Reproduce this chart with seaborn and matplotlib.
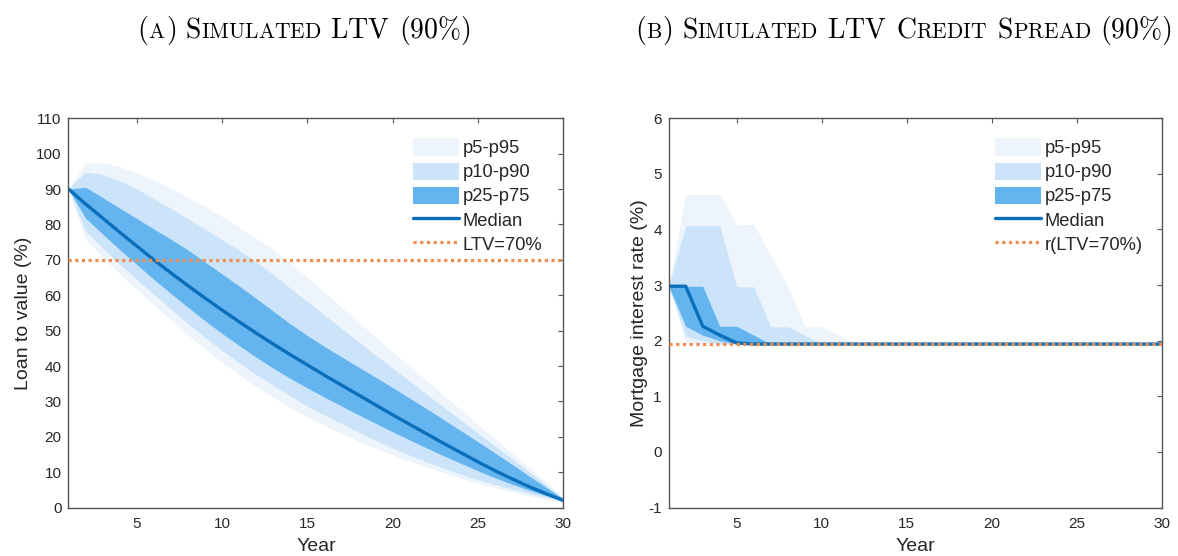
import numpy as np
import pandas as pd
import matplotlib
matplotlib.use('Agg')
import matplotlib.pyplot as plt
import seaborn as sns
from matplotlib.patches import Patch
from matplotlib.lines import Line2D

# Data
years = list(range(1, 31))

# (a) simulated LTV, percentiles by year
ltv_p95 = [90.0, 97.4, 97.4, 96.3, 94.6, 92.6, 90.2, 87.7, 85.0, 82.2,
           79.2, 76.1, 72.8, 69.0, 65.0, 60.8, 56.6, 52.4, 48.2, 44.0,
           39.9, 35.8, 31.7, 27.6, 23.5, 19.4, 15.3, 11.3, 7.2, 3.0]
ltv_p90 = [90.0, 94.8, 94.1, 92.3, 90.0, 87.3, 84.5, 81.6, 78.7, 75.7,
           72.7, 69.4, 65.8, 62.0, 58.2, 54.4, 50.6, 46.8, 43.1, 39.4,
           35.7, 32.0, 28.3, 24.7, 21.0, 17.4, 13.8, 10.1, 6.3, 2.5]
ltv_p75 = [90.0, 90.5, 87.6, 84.6, 81.7, 78.7, 75.8, 72.8, 69.4, 66.0,
           62.6, 59.1, 55.5, 51.9, 48.6, 45.5, 42.6, 39.7, 36.8, 33.9,
           30.9, 27.9, 24.8, 21.7, 18.6, 15.4, 12.2, 8.9, 5.7, 2.5]
ltv_p50 = [90.0, 85.8, 81.8, 77.8, 73.9, 70.0, 66.3, 62.7, 59.2, 55.8,
           52.5, 49.3, 46.2, 43.2, 40.3, 37.4, 34.6, 31.8, 29.0, 26.2,
           23.5, 20.8, 18.1, 15.5, 12.9, 10.4, 8.1, 5.9, 3.9, 2.0]
ltv_p25 = [90.0, 81.8, 77.3, 72.9, 68.7, 64.5, 60.5, 56.6, 52.8, 49.2,
           45.8, 42.5, 39.4, 36.5, 33.8, 31.2, 28.7, 26.2, 23.8, 21.4,
           19.1, 16.8, 14.6, 12.5, 10.4, 8.4, 6.6, 4.9, 3.4, 2.0]
ltv_p10 = [90.0, 78.1, 73.3, 68.8, 64.5, 60.3, 56.1, 52.0, 48.1, 44.4,
           40.9, 37.6, 34.5, 31.5, 28.7, 26.1, 23.7, 21.3, 19.0, 16.8,
           14.8, 12.9, 11.1, 9.4, 7.9, 6.5, 5.2, 4.0, 2.9, 1.8]
ltv_p5 = [90.0, 75.8, 70.7, 66.0, 61.7, 57.3, 53.0, 48.8, 44.8, 41.0,
          37.5, 34.2, 31.1, 28.2, 25.6, 23.2, 20.9, 18.8, 16.8, 14.9,
          13.1, 11.4, 9.8, 8.3, 6.9, 5.6, 4.4, 3.3, 2.3, 1.5]
ltv_threshold = 70

# (b) mortgage interest rate, percentiles by year
rate_p95 = [2.98, 4.63, 4.63, 4.63, 4.09, 4.09, 3.53, 2.98, 2.26, 2.26,
            2.10, 1.94, 1.94, 1.94, 1.94, 1.94, 1.94, 1.94, 1.94, 1.94,
            1.94, 1.94, 1.94, 1.94, 1.94, 1.94, 1.94, 1.94, 1.94, 1.94]
rate_p90 = [2.98, 4.07, 4.07, 4.07, 2.97, 2.97, 2.25, 2.25, 2.10, 1.94,
            1.94, 1.94, 1.94, 1.94, 1.94, 1.94, 1.94, 1.94, 1.94, 1.94,
            1.94, 1.94, 1.94, 1.94, 1.94, 1.94, 1.94, 1.94, 1.94, 1.94]
rate_p75 = [2.98, 2.98, 2.98, 2.26, 2.26, 2.10, 1.94, 1.94, 1.94, 1.94,
            1.94, 1.94, 1.94, 1.94, 1.94, 1.94, 1.94, 1.94, 1.94, 1.94,
            1.94, 1.94, 1.94, 1.94, 1.94, 1.94, 1.94, 1.94, 1.94, 1.94]
rate_p50 = [2.98, 2.98, 2.26, 2.10, 1.96, 1.94, 1.94, 1.94, 1.94, 1.94,
            1.94, 1.94, 1.94, 1.94, 1.94, 1.94, 1.94, 1.94, 1.94, 1.94,
            1.94, 1.94, 1.94, 1.94, 1.94, 1.94, 1.94, 1.94, 1.94, 1.94]
rate_p25 = [2.98, 2.26, 2.10, 2.00, 1.94, 1.94, 1.94, 1.94, 1.94, 1.94,
            1.94, 1.94, 1.94, 1.94, 1.94, 1.94, 1.94, 1.94, 1.94, 1.94,
            1.94, 1.94, 1.94, 1.94, 1.94, 1.94, 1.94, 1.94, 1.94, 1.94]
rate_p10 = [2.98, 2.08, 2.00, 1.94, 1.94, 1.94, 1.94, 1.94, 1.94, 1.94,
            1.94, 1.94, 1.94, 1.94, 1.94, 1.94, 1.94, 1.94, 1.94, 1.94,
            1.94, 1.94, 1.94, 1.94, 1.94, 1.94, 1.94, 1.94, 1.94, 1.94]
rate_p5 = [2.98, 1.97, 1.94, 1.94, 1.94, 1.94, 1.94, 1.94, 1.94, 1.94,
           1.94, 1.94, 1.94, 1.94, 1.94, 1.94, 1.94, 1.94, 1.94, 1.94,
           1.94, 1.94, 1.94, 1.94, 1.94, 1.94, 1.94, 1.94, 1.94, 1.94]
rate_threshold = 1.94

band_labels = ['p5-p95', 'p10-p90', 'p25-p75']

# Style
sns.set_style('white')
plt.rcParams['font.family'] = ['Liberation Sans', 'DejaVu Sans']
plt.rcParams['mathtext.fontset'] = 'cm'
plt.rcParams['axes.unicode_minus'] = False

C_OUTER = '#edf4fc'
C_MID = '#cce4fa'
C_INNER = '#64b4ef'
C_MED = '#0a6fbb'
C_REF = '#f08e52'
AX_COL = '#555555'
TXT_COL = '#262626'


def draw_panel(ax, p5, p10, p25, p50, p75, p90, p95, ref, ref_label):
    ax.fill_between(years, p5, p95, color=C_OUTER, lw=0)
    ax.fill_between(years, p10, p90, color=C_MID, lw=0)
    ax.fill_between(years, p25, p75, color=C_INNER, lw=0)
    df = pd.DataFrame({'Year': years, 'value': p50})
    sns.lineplot(data=df, x='Year', y='value', ax=ax, color=C_MED, lw=2.4)
    ax.axhline(ref, color=C_REF, lw=2.3, ls=(0, (1, 1.1)), zorder=5)

    handles = [Patch(facecolor=C_OUTER, lw=0), Patch(facecolor=C_MID, lw=0),
               Patch(facecolor=C_INNER, lw=0),
               Line2D([], [], color=C_MED, lw=2.4),
               Line2D([], [], color=C_REF, lw=2.3, ls=(0, (1, 1.1)))]
    return handles, band_labels + ['Median', ref_label]


def style_axes(ax):
    ax.set_xlim(1, 30)
    ax.set_xticks([5, 10, 15, 20, 25, 30])
    ax.tick_params(which='both', direction='in', top=True, right=True,
                   length=3.6, width=0.8, color=AX_COL, labelcolor=TXT_COL,
                   labelsize=11)
    ax.tick_params(axis='x', pad=7)
    ax.tick_params(axis='y', pad=5)
    for sp in ax.spines.values():
        sp.set_visible(True)
        sp.set_color(AX_COL)
        sp.set_linewidth(1.0)
    ax.set_xlabel('Year', fontsize=14, color=TXT_COL, labelpad=5)


def smallcaps_title(fig, xc, y, parts, big=20, small=15.5):
    # fake small caps in Computer Modern: big capitals + smaller capitals
    r = fig.canvas.get_renderer()
    W = fig.bbox.width
    placed = []
    x = 0.0
    for s, kind in parts:
        if kind == 'gap':
            x += big * fig.dpi / 72 * 0.33
            continue
        size = big if kind == 'B' else small
        t = fig.text(0, y, r'$\mathrm{' + s + '}$', fontsize=size,
                     va='baseline', ha='left', color='black')
        w = t.get_window_extent(r).width
        placed.append((t, x))
        x += w
    x0 = xc * W - x / 2
    for t, off in placed:
        t.set_x((x0 + off) / W)


fig = plt.figure(figsize=(11.78, 5.56), dpi=100)
ax1 = fig.add_axes([0.0581, 0.087, 0.4202, 0.7004])
ax2 = fig.add_axes([0.5677, 0.087, 0.4185, 0.7004])

# (a)
h1, l1 = draw_panel(ax1, ltv_p5, ltv_p10, ltv_p25, ltv_p50, ltv_p75,
                    ltv_p90, ltv_p95, ltv_threshold, 'LTV=70%')
style_axes(ax1)
ax1.set_ylim(0, 110)
ax1.set_yticks(range(0, 111, 10))
ax1.set_ylabel('Loan to value (%)', fontsize=14, color=TXT_COL, labelpad=3)

# (b)
h2, l2 = draw_panel(ax2, rate_p5, rate_p10, rate_p25, rate_p50, rate_p75,
                    rate_p90, rate_p95, rate_threshold, 'r(LTV=70%)')
style_axes(ax2)
ax2.set_ylim(-1, 6)
ax2.set_yticks(range(-1, 7))
ax2.set_ylabel('Mortgage interest rate (%)', fontsize=14, color=TXT_COL,
               labelpad=0.5)

for ax, h, l, xa in [(ax1, h1, l1, 0.696), (ax2, h2, l2, 0.662)]:
    ax.legend(h, l, loc='upper left', bbox_to_anchor=(xa, 0.948),
              frameon=False, fontsize=13.2, borderpad=0, borderaxespad=0,
              handlelength=2.5, handleheight=1.08, handletextpad=0.2,
              labelspacing=0.28)

smallcaps_title(fig, 0.258, 0.932,
                [('(', 'B'), ('A', 's'), (')', 'B'), ('', 'gap'),
                 ('S', 'B'), ('IMULATED', 's'), ('', 'gap'),
                 ('LTV', 'B'), ('', 'gap'), (r'(90\%)', 'B')])
smallcaps_title(fig, 0.767, 0.932,
                [('(', 'B'), ('B', 's'), (')', 'B'), ('', 'gap'),
                 ('S', 'B'), ('IMULATED', 's'), ('', 'gap'),
                 ('LTV', 'B'), ('', 'gap'),
                 ('C', 'B'), ('REDIT', 's'), ('', 'gap'),
                 ('S', 'B'), ('PREAD', 's'), ('', 'gap'), (r'(90\%)', 'B')])

fig.savefig('out.png', dpi=100)
